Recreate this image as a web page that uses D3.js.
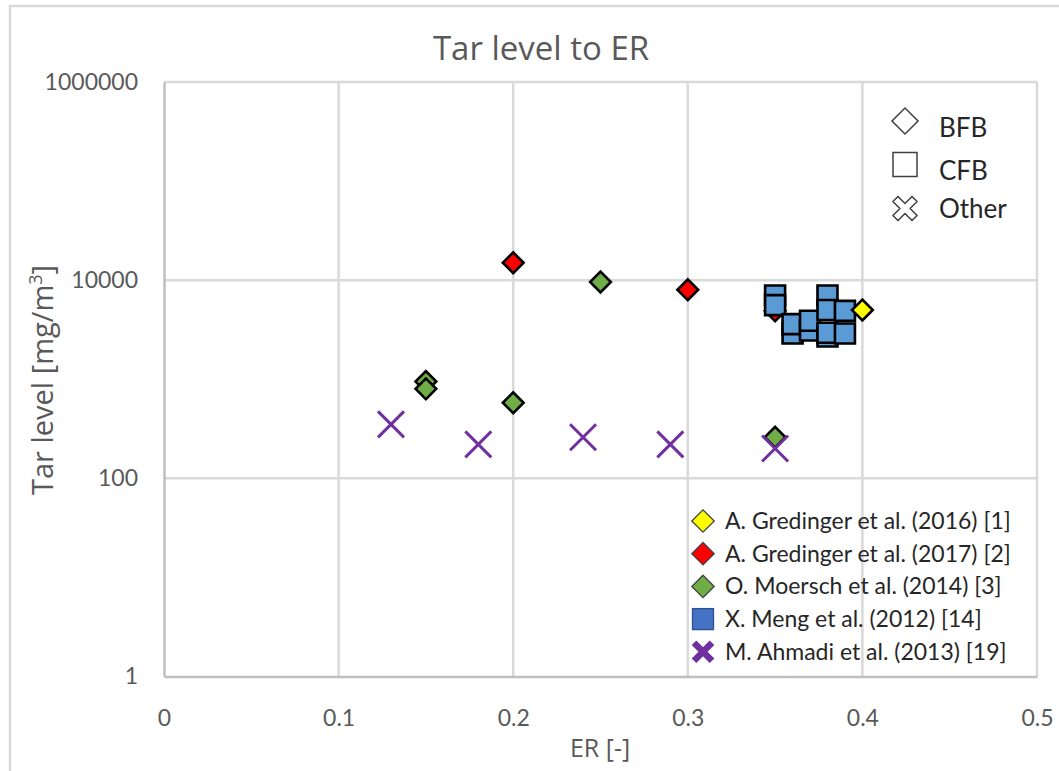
<!DOCTYPE html>
<html>
<head>
<meta charset="utf-8">
<script src="https://cdn.jsdelivr.net/npm/d3@7"></script>
<style>
  html, body { margin: 0; padding: 0; background: #fff; }
  svg { display: block; font-family: Lato, "Open Sans", sans-serif; }
</style>
</head>
<body>
<svg id="chart" width="1059" height="771"></svg>
<script>
// Axis ticks
const erTicks = [0, 0.1, 0.2, 0.3, 0.4, 0.5];
const tarTicks = [1, 100, 10000, 1000000];

// Series: equivalence ratio (ER) and tar level [mg/m3]
const gredinger2016ER = [0.4];
const gredinger2016Tar = [5000];

const gredinger2017ER = [0.35, 0.2, 0.3];
const gredinger2017Tar = [4900, 15000, 8000];

const moersch2014ER = [0.15, 0.15, 0.2, 0.25, 0.35];
const moersch2014Tar = [950, 800, 580, 9600, 260];

const meng2012ER = [0.35, 0.35, 0.36, 0.36, 0.37, 0.37, 0.38, 0.38, 0.38, 0.38, 0.39, 0.39];
const meng2012Tar = [7000, 5600, 2900, 3600, 3100, 3900, 7000, 5000, 2700, 2950, 4900, 2900];

const ahmadi2013ER = [0.13, 0.18, 0.24, 0.29, 0.35];
const ahmadi2013Tar = [350, 220, 260, 220, 200];

const seriesNames = [
  "A. Gredinger et al. (2016) [1]",
  "A. Gredinger et al. (2017) [2]",
  "O. Moersch et al. (2014) [3]",
  "X. Meng et al. (2012) [14]",
  "M. Ahmadi et al. (2013) [19]"
];
const seriesColors = ["#ffff00", "#ff0000", "#70ad47", "#5b9bd5", "#7030a0"];
const typeNames = ["BFB", "CFB", "Other"];

const zip = (xs, ys) => xs.map((x, i) => ({ er: x, tar: ys[i] }));

const svg = d3.select("#chart");
const textColor = "#595959";

// Chart area frame
svg.append("rect")
  .attr("x", 10).attr("y", 6).attr("width", 1100).attr("height", 800)
  .attr("fill", "#fff").attr("stroke", "#d9d9d9").attr("stroke-width", 2.5);

const x = d3.scaleLinear().domain([0, 0.5]).range([164, 1037]);
const y = d3.scaleLog().domain([1, 1000000]).range([676.5, 82]);

// Gridlines
const grid = svg.append("g");
grid.selectAll("line.h").data(tarTicks.slice(1)).join("line")
  .attr("x1", x(0)).attr("x2", x(0.5))
  .attr("y1", d => y(d)).attr("y2", d => y(d))
  .attr("stroke", "#d9d9d9").attr("stroke-width", 2.5);
grid.selectAll("line.v").data(erTicks.slice(1)).join("line")
  .attr("x1", d => x(d)).attr("x2", d => x(d))
  .attr("y1", y(1)).attr("y2", y(1000000))
  .attr("stroke", "#d9d9d9").attr("stroke-width", 2.5);

// Axes
const xAxis = svg.append("g")
  .attr("transform", `translate(0,${y(1)})`)
  .call(d3.axisBottom(x).tickValues(erTicks).tickFormat(d => d === 0 ? "0" : d3.format(".1f")(d)).tickSize(0).tickPadding(42));
const yAxis = svg.append("g")
  .attr("transform", `translate(${x(0)},0)`)
  .call(d3.axisLeft(y).tickValues(tarTicks).tickFormat(d3.format("d")).tickSize(0).tickPadding(26));
[xAxis, yAxis].forEach(g => {
  g.select(".domain").attr("stroke", "#bfbfbf").attr("stroke-width", 2.5);
  g.selectAll("text").attr("fill", textColor).attr("font-size", 23).attr("font-family", "Lato");
});
xAxis.selectAll("text").attr("dy", "0.32em");

// Titles
svg.append("text").attr("x", 541).attr("y", 60).attr("text-anchor", "middle")
  .attr("font-family", "Open Sans").attr("font-size", 33).attr("fill", textColor).text("Tar level to ER");
svg.append("text").attr("x", 600).attr("y", 757).attr("text-anchor", "middle")
  .attr("font-family", "Open Sans").attr("font-size", 25).attr("fill", textColor).text("ER [-]");
const yTitle = svg.append("text")
  .attr("transform", "translate(53,380) rotate(-90)")
  .attr("text-anchor", "middle").attr("font-family", "Open Sans")
  .attr("font-size", 29).attr("fill", textColor);
yTitle.append("tspan").text("Tar level [mg/m");
yTitle.append("tspan").attr("font-size", 18).attr("dy", -11).text("3");
yTitle.append("tspan").attr("dy", 11).text("]");

// Marker helpers
const diamondPath = d3.symbol().type(d3.symbolSquare).size(215)();
const squarePath = d3.symbol().type(d3.symbolSquare).size(400)();

function drawDiamonds(data, color) {
  svg.append("g").selectAll("path").data(data).join("path")
    .attr("d", diamondPath)
    .attr("transform", d => `translate(${x(d.er)},${y(d.tar)}) rotate(45)`)
    .attr("fill", color).attr("stroke", "#000").attr("stroke-width", 2.6)
    .attr("stroke-linejoin", "miter");
}
function drawSquares(data, color) {
  svg.append("g").selectAll("path").data(data).join("path")
    .attr("d", squarePath)
    .attr("transform", d => `translate(${x(d.er)},${y(d.tar)})`)
    .attr("fill", color).attr("stroke", "#000").attr("stroke-width", 2.6);
}
function drawCrosses(data, color) {
  const r = 13;
  const g = svg.append("g").selectAll("g").data(data).join("g")
    .attr("transform", d => `translate(${x(d.er)},${y(d.tar)})`);
  g.append("line").attr("x1", -r).attr("y1", -r).attr("x2", r).attr("y2", r);
  g.append("line").attr("x1", -r).attr("y1", r).attr("x2", r).attr("y2", -r);
  g.selectAll("line").attr("stroke", color).attr("stroke-width", 3);
}

drawDiamonds(zip(gredinger2017ER, gredinger2017Tar), seriesColors[1]);
drawDiamonds(zip(moersch2014ER, moersch2014Tar), seriesColors[2]);
drawSquares(zip(meng2012ER, meng2012Tar), seriesColors[3]);
drawDiamonds(zip(gredinger2016ER, gredinger2016Tar), seriesColors[0]);
drawCrosses(zip(ahmadi2013ER, ahmadi2013Tar), seriesColors[4]);

// Series legend
const legend = svg.append("g").attr("transform", "translate(703,521)");
const rowH = 32.7;
seriesNames.forEach((name, i) => {
  const row = legend.append("g").attr("transform", `translate(0,${i * rowH})`);
  if (i < 3) {
    row.append("path").attr("d", d3.symbol().type(d3.symbolSquare).size(250)())
      .attr("transform", "rotate(45)")
      .attr("fill", seriesColors[i]).attr("stroke", "#404040").attr("stroke-width", 1.3);
  } else if (i === 3) {
    row.append("rect").attr("x", -10.5).attr("y", -10.5).attr("width", 21).attr("height", 21)
      .attr("fill", "#4472c4").attr("stroke", "#2f528f").attr("stroke-width", 1.3);
  } else {
    const r = 9;
    row.append("line").attr("x1", -r).attr("y1", -r).attr("x2", r).attr("y2", r);
    row.append("line").attr("x1", -r).attr("y1", r).attr("x2", r).attr("y2", -r);
    row.selectAll("line").attr("stroke", seriesColors[4]).attr("stroke-width", 6.5);
  }
  row.append("text").attr("x", 22).attr("dy", "0.35em")
    .attr("font-size", 23).attr("fill", "#262626").text(name);
});

// Reactor type legend
const typeLegend = svg.append("g").attr("transform", "translate(905,0)");
const typeRows = [121, 164.5, 208.5];
const textRows = [128, 170.5, 209];
typeNames.forEach((name, i) => {
  const g = typeLegend.append("g").attr("transform", `translate(0,${typeRows[i]})`);
  if (i === 0) {
    g.append("path").attr("d", d3.symbol().type(d3.symbolSquare).size(340)())
      .attr("transform", "rotate(45)");
  } else if (i === 1) {
    g.append("rect").attr("x", -12).attr("y", -12).attr("width", 24).attr("height", 24);
  } else {
    const a = 3.6, L = 13.5;
    const pts = [[a,-L],[a,-a],[L,-a],[L,a],[a,a],[a,L],[-a,L],[-a,a],[-L,a],[-L,-a],[-a,-a],[-a,-L]];
    g.append("polygon").attr("points", pts.map(p => p.join(",")).join(" "))
      .attr("transform", "rotate(45)").attr("stroke-linejoin", "round");
  }
  g.selectAll("path,rect,polygon").attr("fill", "#fff").attr("stroke", "#404040").attr("stroke-width", 1.5);
  typeLegend.append("text").attr("x", 34).attr("y", textRows[i]).attr("dy", "0.35em")
    .attr("font-size", 26).attr("fill", "#262626").text(name);
});
</script>
</body>
</html>
